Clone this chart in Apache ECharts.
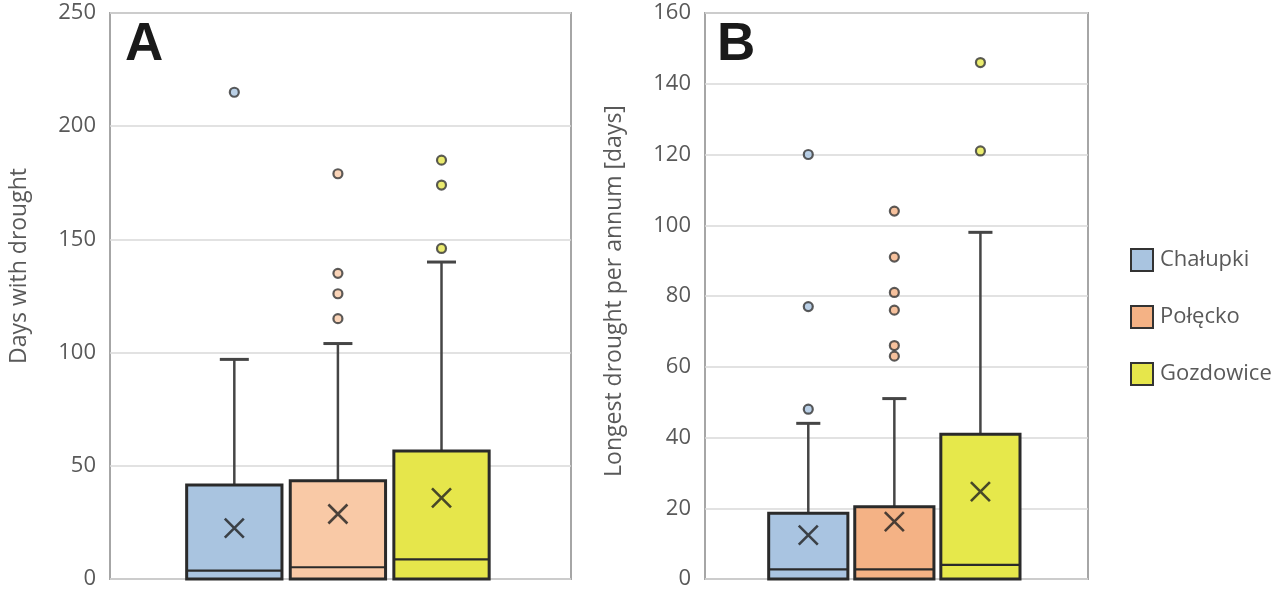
<!DOCTYPE html>
<html>
<head>
<meta charset="utf-8">
<script src="https://cdn.jsdelivr.net/npm/echarts@6/dist/echarts.min.js"></script>
<style>
  html, body { margin: 0; padding: 0; background: #ffffff; }
  #chart { width: 1280px; height: 591px; }
</style>
</head>
<body>
<div id="chart"></div>
<script>
// ---------- data ----------
const categories = ['Chałupki', 'Połęcko', 'Gozdowice'];
const categoryIndex = [0, 1, 2];

// Panel A: days with drought  [min, Q1, median, Q3, upper whisker]
const daysStats = [
  [0, 0, 3.7, 41.5, 97],
  [0, 0, 5.2, 43.4, 104],
  [0, 0, 8.7, 56.5, 140]
];
const daysMeans = [22.5, 28.7, 35.8];
const daysOutliers = [
  [215],
  [179, 135, 126, 115],
  [185, 174, 146]
];

// Panel B: longest drought per annum [days]
const longestStats = [
  [0, 0, 2.7, 18.6, 44],
  [0, 0, 2.7, 20.4, 51],
  [0, 0, 4.0, 40.9, 98]
];
const longestMeans = [12.4, 16.2, 24.7];
const longestOutliers = [
  [48, 77, 120],
  [104, 91, 81, 76, 66, 63],
  [146, 121]
];

const daysTicks = { min: 0, max: 250, interval: 50 };
const longestTicks = { min: 0, max: 160, interval: 20 };

// ---------- styles ----------
const FONT = '"Open Sans", "Noto Sans", sans-serif';
const TEXT_GRAY = '#595959';
const colorsA = ['#a9c4e0', '#f9c9a6', '#e6e64b'];
const colorsB = ['#a9c4e1', '#f4b285', '#e6e84b'];
const legendColors = ['#a9c4e0', '#f4b285', '#e6e64b'];
const BOX_W = 0.92;   // box width in category units
const CAP_W = 0.28;   // whisker cap width in category units

function boxRender(fill) {
  return function (params, api) {
    const x = api.value(0);
    const unit = api.size([1, 0])[0];
    const hw = unit * BOX_W / 2;
    const cw = unit * CAP_W / 2;
    const pMin = api.coord([x, api.value(1)]);
    const pQ1 = api.coord([x, api.value(2)]);
    const pMed = api.coord([x, api.value(3)]);
    const pQ3 = api.coord([x, api.value(4)]);
    const pMax = api.coord([x, api.value(5)]);
    const lineStyle = { stroke: '#454545', lineWidth: 2.5 };
    return {
      type: 'group',
      children: [
        { type: 'line', shape: { x1: pQ3[0], y1: pQ3[1], x2: pMax[0], y2: pMax[1] }, style: lineStyle },
        { type: 'line', shape: { x1: pMax[0] - cw, y1: pMax[1], x2: pMax[0] + cw, y2: pMax[1] }, style: { stroke: '#454545', lineWidth: 3 } },
        { type: 'line', shape: { x1: pMin[0], y1: pMin[1], x2: pQ1[0], y2: pQ1[1] }, style: lineStyle },
        { type: 'rect', shape: { x: pQ3[0] - hw, y: pQ3[1], width: hw * 2, height: pQ1[1] - pQ3[1] },
          style: { fill: fill, stroke: '#2a2a2a', lineWidth: 3 } },
        { type: 'line', shape: { x1: pMed[0] - hw, y1: pMed[1], x2: pMed[0] + hw, y2: pMed[1] },
          style: { stroke: '#2a2a2a', lineWidth: 2.2 } }
      ]
    };
  };
}

function panelSeries(panel, stats, means, outliers, colors) {
  const list = [];
  categories.forEach(function (name, i) {
    list.push({
      type: 'custom',
      name: name,
      xAxisIndex: panel, yAxisIndex: panel,
      itemStyle: { color: colors[i] },
      encode: { x: 0, y: [1, 2, 3, 4, 5] },
      data: [[categoryIndex[i]].concat(stats[i])],
      renderItem: boxRender(colors[i]),
      z: 2
    });
  });
  categories.forEach(function (name, i) {
    list.push({
      type: 'scatter',
      name: name,
      xAxisIndex: panel, yAxisIndex: panel,
      symbol: 'circle',
      symbolSize: 9,
      itemStyle: { color: colors[i], borderColor: '#333', borderWidth: 2.2 },
      data: outliers[i].map(function (v) { return [categoryIndex[i], v]; }),
      z: 4
    });
  });
  list.push({
    type: 'scatter',
    name: 'Mean',
    xAxisIndex: panel, yAxisIndex: panel,
    symbol: 'path://M0,0L10,10M10,0L0,10',
    symbolSize: 19,
    itemStyle: { color: 'rgba(0,0,0,0)', borderColor: '#1f1f1f', borderWidth: 2.6 },
    data: means.map(function (v, i) { return [categoryIndex[i], v]; }),
    z: 5
  });
  return list;
}

function xAxisDef(gridIndex) {
  return {
    type: 'value', gridIndex: gridIndex, min: -1.2, max: 3.25,
    axisLine: { show: false }, axisTick: { show: false },
    axisLabel: { show: false }, splitLine: { show: false }
  };
}

function yAxisDef(gridIndex, ticks, name, padding) {
  return {
    type: 'value', gridIndex: gridIndex,
    min: ticks.min, max: ticks.max, interval: ticks.interval,
    name: name, nameLocation: 'middle', nameGap: 79,
    nameTextStyle: { color: TEXT_GRAY, fontSize: 23, fontFamily: FONT, padding: padding },
    axisLine: { show: false }, axisTick: { show: false },
    axisLabel: { color: TEXT_GRAY, fontSize: 22, fontFamily: FONT, margin: 14 },
    splitLine: { lineStyle: { color: '#d9d9d9', width: 1.5 } }
  };
}

const chart = echarts.init(document.getElementById('chart'), null, { renderer: 'canvas' });
chart.setOption({
  animation: false,
  backgroundColor: '#ffffff',
  title: [
    { text: 'A', left: 120, top: 14, textStyle: { fontSize: 53, fontWeight: 'bold', color: '#1a1a1a', fontFamily: '"Liberation Sans", Arial, sans-serif' } },
    { text: 'B', left: 712, top: 14, textStyle: { fontSize: 53, fontWeight: 'bold', color: '#1a1a1a', fontFamily: '"Liberation Sans", Arial, sans-serif' } }
  ],
  legend: {
    orient: 'vertical', left: 1125, top: 243,
    icon: 'rect', itemWidth: 22, itemHeight: 22, itemGap: 33,
    textStyle: { color: TEXT_GRAY, fontSize: 22, fontFamily: FONT, padding: [0, 0, 0, 2] },
    data: categories.map(function (name, i) {
      return { name: name, itemStyle: { color: legendColors[i], borderColor: '#333', borderWidth: 2 } };
    })
  },
  grid: [
    { left: 110, right: 709, top: 13, bottom: 12, show: true, borderColor: '#a6a6a6', borderWidth: 2, backgroundColor: 'transparent' },
    { left: 705, right: 192, top: 13, bottom: 12, show: true, borderColor: '#a6a6a6', borderWidth: 2, backgroundColor: 'transparent' }
  ],
  xAxis: [xAxisDef(0), xAxisDef(1)],
  yAxis: [
    yAxisDef(0, daysTicks, 'Days with drought', [0, 0, 0, 60]),
    yAxisDef(1, longestTicks, 'Longest drought per annum [days]', [0, 0, 0, 10])
  ],
  series: panelSeries(0, daysStats, daysMeans, daysOutliers, colorsA)
    .concat(panelSeries(1, longestStats, longestMeans, longestOutliers, colorsB))
});
</script>
</body>
</html>
